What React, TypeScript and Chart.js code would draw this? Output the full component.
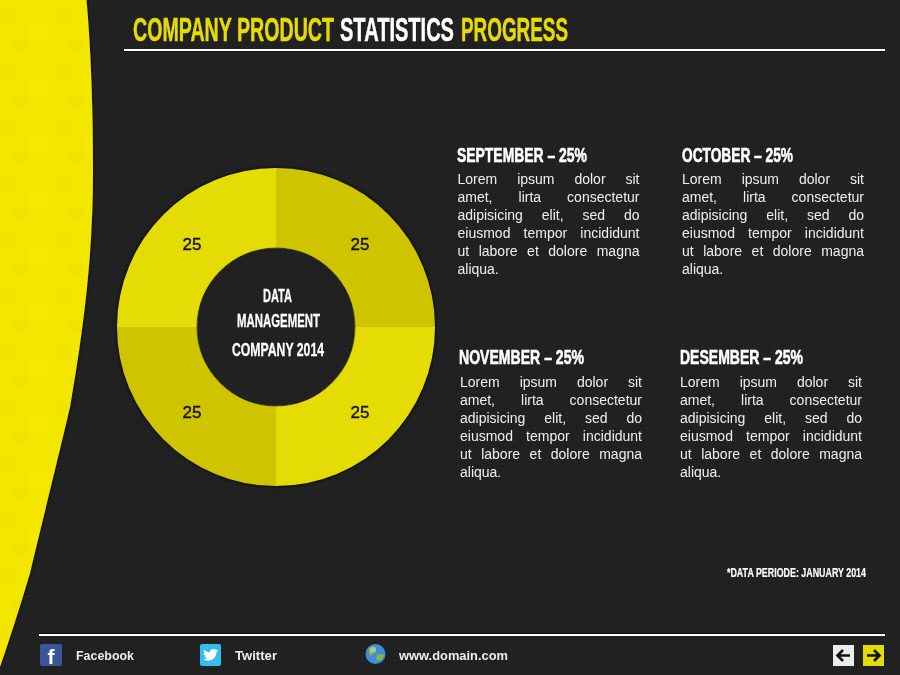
import React, { useEffect, useRef } from "react";
import { Chart, registerables } from "chart.js";

Chart.register(...registerables);

const categories = ["September", "October", "November", "Desember"];
const values = [25, 25, 25, 25];
const sliceColors = ["#CFC400", "#E6DC05", "#CFC400", "#E6DC05"];
const bodyLines = [
  "Lorem ipsum dolor sit",
  "amet, lirta consectetur",
  "adipisicing elit, sed do",
  "eiusmod tempor incididunt",
  "ut labore et dolore magna",
  "aliqua.",
];
const centerLines = ["DATA", "MANAGEMENT", "COMPANY 2014"];
const footerLinks = ["Facebook", "Twitter", "www.domain.com"];
const note = "*DATA PERIODE: JANUARY 2014";

const NARROW = '"Liberation Sans Narrow", "Liberation Sans", sans-serif';
const SANS = '"Liberation Sans", Arial, sans-serif';

const panels = [
  { x: 457, hw: 130, tx: 457.5, hy: 162, by: 170 },
  { x: 682, hw: 111, tx: 682, hy: 162, by: 170 },
  { x: 459, hw: 125, tx: 460, hy: 364, by: 373 },
  { x: 680, hw: 123, tx: 680, hy: 364, by: 373 },
];

const valueLabels = {
  id: "valueLabels",
  afterDatasetsDraw(chart: any) {
    const { ctx } = chart;
    const meta = chart.getDatasetMeta(0);
    ctx.save();
    ctx.font = `17px ${SANS}`;
    ctx.fillStyle = "#111";
    ctx.strokeStyle = "#111";
    ctx.lineWidth = 0.4;
    ctx.textAlign = "center";
    ctx.textBaseline = "middle";
    meta.data.forEach((arc: any, i: number) => {
      const p = arc.getCenterPoint();
      const s = String(chart.data.datasets[0].data[i]);
      ctx.fillText(s, p.x, p.y + 2);
      ctx.strokeText(s, p.x, p.y + 2);
    });
    ctx.restore();
  },
};

function Fit(props: { x: number; y: number; w: number; size: number; fill?: string; weight?: number; children: string }) {
  const fill = props.fill ?? "#fff";
  return (
    <text
      x={props.x}
      y={props.y}
      textLength={props.w}
      lengthAdjust="spacingAndGlyphs"
      fontFamily={NARROW}
      fontWeight={700}
      fontSize={props.size}
      fill={fill}
      stroke={fill}
      strokeWidth={props.weight ?? 0.5}
    >
      {props.children}
    </text>
  );
}

export default function App() {
  const ref = useRef<HTMLCanvasElement>(null);
  useEffect(() => {
    const chart = new Chart(ref.current!, {
      type: "doughnut",
      data: {
        labels: categories,
        datasets: [{ data: values, backgroundColor: sliceColors, hoverBackgroundColor: sliceColors, borderWidth: 0 }],
      },
      options: {
        responsive: false,
        animation: false,
        cutout: "49.5%",
        layout: { padding: { left: 117, top: 168, right: 465, bottom: 189 } },
        plugins: { legend: { display: false }, tooltip: { enabled: false } },
      },
      plugins: [valueLabels],
    } as any);
    return () => chart.destroy();
  }, []);

  const abs: React.CSSProperties = { position: "absolute", left: 0, top: 0 };

  return (
    <div
      style={{
        ...abs,
        width: 900,
        height: 675,
        overflow: "hidden",
        backgroundColor: "#222222",
        backgroundImage:
          "repeating-linear-gradient(0deg, rgba(0,0,0,.07) 0 1px, transparent 1px 4px), repeating-linear-gradient(90deg, rgba(0,0,0,.07) 0 1px, transparent 1px 4px)",
      }}
    >
      <svg width={900} height={675} style={abs}>
        <defs>
          <pattern id="tex" width="56" height="56" patternUnits="userSpaceOnUse">
            <rect width="56" height="56" fill="#F3E700" />
            <rect x="0" y="8" width="16" height="16" fill="#F2E500" />
            <rect x="28" y="24" width="20" height="16" fill="#F5E900" />
            <rect x="12" y="40" width="16" height="12" fill="#F1E400" />
          </pattern>
          <filter id="sh" x="-20%" y="-20%" width="140%" height="140%">
            <feDropShadow dx="1" dy="0" stdDeviation="0.8" floodColor="#000" floodOpacity="0.6" />
          </filter>
          <filter id="soft" x="-10%" y="-10%" width="120%" height="120%">
            <feGaussianBlur stdDeviation="1" />
          </filter>
        </defs>
        <path
          d="M0 0 L86.5 0 C91 50 93 110 93 170 C93 240 87 310 70 407 C60 450 50 490 30 573 C22 600 12 632 0 667 Z"
          fill="url(#tex)"
          filter="url(#sh)"
        />
        <circle cx="276" cy="327" r="159.5" fill="none" stroke="#000" strokeWidth="2" opacity="0.5" filter="url(#soft)" />
      </svg>

      <canvas ref={ref} width={900} height={675} style={{ ...abs, display: "block" }} />

      <svg width={900} height={675} style={abs}>
        <circle cx="276" cy="327" r="79" fill="none" stroke="#111" strokeOpacity="0.6" strokeWidth="1" />

        {/* title */}
        <Fit x={133} y={41} w={201} size={34} fill="#E6DC05">COMPANY PRODUCT</Fit>
        <Fit x={340} y={41} w={114} size={34}>STATISTICS</Fit>
        <Fit x={461} y={41} w={107} size={34} fill="#E6DC05">PROGRESS</Fit>
        <rect x={124} y={49} width={761} height={2} fill="#fff" />
        <rect x={124} y={51} width={761} height={1} fill="#000" opacity="0.5" />

        {/* doughnut centre */}
        <Fit x={263} y={302} w={29} size={18} weight={0.3}>{centerLines[0]}</Fit>
        <Fit x={237} y={327} w={83} size={18} weight={0.3}>{centerLines[1]}</Fit>
        <Fit x={232} y={356} w={92} size={18} weight={0.3}>{centerLines[2]}</Fit>

        {/* panels */}
        {panels.map((p, i) => (
          <Fit key={i} x={p.x} y={p.hy} w={p.hw} size={21} weight={0.6}>
            {`${categories[i].toUpperCase()} – ${values[i]}%`}
          </Fit>
        ))}

        <Fit x={727} y={577} w={139} size={13} weight={0.2}>{note}</Fit>

        {/* footer */}
        <rect x={39} y={634} width={846} height={2} fill="#fff" />
        <rect x={39} y={633} width={846} height={1} fill="#000" opacity="0.6" />

        <rect x={40} y={644} width={22} height={22} rx={2} fill="#3A5699" />
        <text x={51} y={664} textAnchor="middle" fontFamily={SANS} fontWeight={700} fontSize={21} fill="#fff">f</text>
        <rect x={200} y={644} width={21} height={22} rx={2} fill="#35BDEE" />
        <path
          d="M217 650 c-.8.4-1.4.5-2 .6 .7-.4 1.2-1 1.5-1.8 -.7.4-1.4.7-2.1.8 -1.4-1.5-4.6-.6-4.6 2.2 v.5 c-2.3-.1-4.3-1.2-5.6-2.9 -.8 1.4-.3 3 .9 3.9 -.6 0-1.1-.2-1.5-.4 0 1.5 1 2.6 2.5 3 -.5.1-.9.1-1.4 0 .4 1.2 1.5 2 2.8 2.1 -1.3 1-2.8 1.4-4.4 1.2 5.8 3.6 13.5.2 13.5-7.6 .9-.5 1.6-1.1 2-1.6z"
          fill="#fff"
        />
        <circle cx={375.5} cy={654} r={10} fill="#3F8FD8" />
        <path d="M369 648 q4 -3 7 -1 q1 3 -2 4 q-1 3 -3 5 q-3 -3 -2 -8z M377 655 q4 -2 7 0 q-1 5 -6 6 q-3 -3 -1 -6z" fill="#8DB23A" />
        <circle cx={373} cy={650} r={3} fill="#BFE3FF" opacity="0.5" />

        <g fontFamily={SANS} fontWeight={700} fontSize={13} fill="#EDEDED">
          <text x={76} y={660} textLength={58} lengthAdjust="spacingAndGlyphs">{footerLinks[0]}</text>
          <text x={235} y={660} textLength={42} lengthAdjust="spacingAndGlyphs">{footerLinks[1]}</text>
          <text x={399} y={660} textLength={109} lengthAdjust="spacingAndGlyphs">{footerLinks[2]}</text>
        </g>

        <rect x={833} y={645} width={21} height={21} fill="#EDEDED" />
        <path d="M850 655.5 H838.5 M843 650 L837.5 655.5 L843 661" stroke="#111" strokeWidth={2.6} fill="none" />
        <rect x={863} y={645} width={21} height={21} fill="#E6DC05" />
        <path d="M867 655.5 H878.5 M874 650 L879.5 655.5 L874 661" stroke="#111" strokeWidth={2.6} fill="none" />
      </svg>

      {panels.map((p, i) => (
        <div
          key={i}
          style={{
            position: "absolute",
            left: p.tx,
            top: p.by,
            width: 182,
            font: `14px/18px ${SANS}`,
            color: "#EFEFEF",
          }}
        >
          {bodyLines.map((line, j) => (
            <div key={j} style={{ textAlign: "justify", textAlignLast: j === bodyLines.length - 1 ? "left" : "justify" }}>
              {line}
            </div>
          ))}
        </div>
      ))}
    </div>
  );
}
